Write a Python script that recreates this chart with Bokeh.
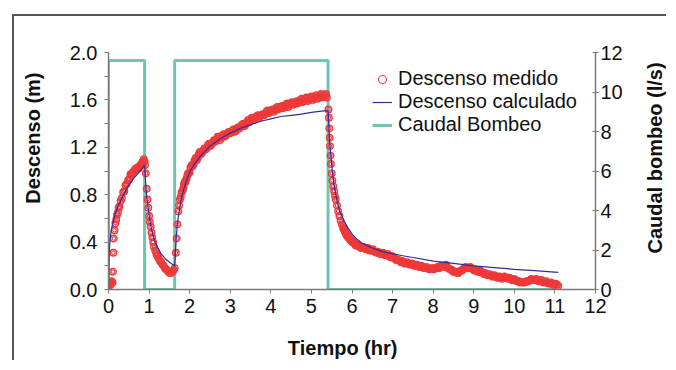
import math
from bokeh.plotting import figure
from bokeh.models import (Range1d, LinearAxis, FixedTicker, Legend, LegendItem, Label,
                          PrintfTickFormatter)
from bokeh.embed import file_html
from bokeh.resources import INLINE

# ---------------- data ----------------
# Measured drawdown (m) vs time (hr), by test period
measured_pump1 = [(0.00,0.02),(0.02,0.05),(0.04,0.06),(0.06,0.04),(0.08,0.07),(0.10,0.06),(0.11,0.15),
    (0.12,0.31),(0.13,0.43),(0.15,0.50),(0.17,0.56),(0.19,0.59),(0.21,0.63),(0.23,0.65),(0.25,0.69),
    (0.27,0.70),(0.30,0.75),(0.33,0.77),(0.36,0.82),(0.39,0.83),(0.42,0.88),(0.45,0.89),(0.48,0.92),
    (0.51,0.93),(0.54,0.97),(0.57,0.97),(0.60,0.99),(0.63,1.00),(0.66,1.02),(0.69,1.01),(0.72,1.03),
    (0.75,1.02),(0.78,1.05),(0.81,1.06),(0.84,1.08),(0.87,1.10),(0.89,1.08)]
measured_rec1 = [(0.90,1.05),(0.92,0.98),(0.94,0.85),(0.96,0.76),(0.98,0.69),(1.00,0.62),(1.02,0.57),
    (1.04,0.53),(1.06,0.48),(1.08,0.44),(1.10,0.40),(1.12,0.36),(1.15,0.33),(1.18,0.30),(1.21,0.28),
    (1.24,0.26),(1.27,0.24),(1.30,0.23),(1.33,0.21),(1.36,0.20),(1.39,0.18),(1.42,0.17),(1.45,0.16),
    (1.48,0.15),(1.51,0.14),(1.54,0.14),(1.57,0.15),(1.60,0.16),(1.63,0.18)]
measured_pump2 = [(1.66,0.31),(1.68,0.43),(1.70,0.55),(1.72,0.66),(1.74,0.71),(1.76,0.76),(1.78,0.78),
    (1.80,0.82),(1.83,0.84),(1.86,0.89),(1.90,0.91),(1.94,0.96),(1.98,0.98),(2.02,1.03),(2.07,1.04),
    (2.12,1.09),(2.17,1.09),(2.22,1.14),(2.27,1.14),(2.33,1.17),(2.39,1.18),(2.45,1.22),(2.51,1.21),
    (2.57,1.24),(2.63,1.25),(2.69,1.29),(2.75,1.26),(2.81,1.30),(2.87,1.29),(2.93,1.32),(2.99,1.32),
    (3.05,1.34),(3.11,1.33),(3.17,1.36),(3.23,1.36),(3.29,1.39),(3.35,1.38),(3.41,1.41),(3.47,1.41),
    (3.53,1.45),(3.59,1.43),(3.65,1.46),(3.71,1.45),(3.77,1.47),(3.83,1.47),(3.89,1.50),(3.95,1.49),
    (4.01,1.51),(4.07,1.50),(4.13,1.53),(4.19,1.52),(4.25,1.54),(4.31,1.53),(4.37,1.56),(4.43,1.54),
    (4.49,1.57),(4.55,1.56),(4.61,1.58),(4.67,1.57),(4.73,1.60),(4.79,1.58),(4.85,1.61),(4.91,1.59),
    (4.97,1.62),(5.03,1.60),(5.09,1.63),(5.15,1.61),(5.21,1.64),(5.27,1.62),(5.33,1.64),(5.38,1.62),
    (1.85,0.86),(1.88,0.91),(1.92,0.93),(1.96,0.98),(2.00,0.99),(2.05,1.05),(2.10,1.06),(2.15,1.11),
    (2.20,1.11),(2.25,1.16),(2.30,1.15),(2.36,1.19),(2.42,1.19),(2.48,1.23),(2.54,1.22),(2.60,1.26),
    (2.66,1.26),(2.72,1.29),(2.78,1.28),(2.84,1.31),(2.90,1.30),(2.96,1.33),(3.02,1.32),(3.08,1.35),
    (3.14,1.34),(3.20,1.37),(3.26,1.37),(3.32,1.40),(3.38,1.39),(3.44,1.43),(3.50,1.42),(3.56,1.45),
    (3.62,1.44),(3.68,1.47),(3.74,1.46),(3.80,1.48),(3.86,1.48),(3.92,1.51),(3.98,1.50),(4.04,1.52),
    (4.10,1.51),(4.16,1.54),(4.22,1.53),(4.28,1.55),(4.34,1.54),(4.40,1.57),(4.46,1.55),(4.52,1.58),
    (4.58,1.57),(4.64,1.59),(4.70,1.58),(4.76,1.61),(4.82,1.59),(4.88,1.62),(4.94,1.60),(5.00,1.63),
    (5.06,1.61),(5.12,1.64),(5.18,1.62),(5.24,1.65),(5.30,1.63),(5.36,1.65)]
measured_rec2 = [(5.42,1.52),(5.43,1.45),(5.44,1.36),(5.45,1.28),(5.46,1.21),(5.47,1.13),(5.48,1.06),
    (5.50,0.98),(5.52,0.92),(5.54,0.87),(5.56,0.83),(5.58,0.79),(5.60,0.76),(5.63,0.71),(5.66,0.66),
    (5.69,0.62),(5.72,0.58),(5.75,0.55),(5.78,0.52),(5.82,0.49),(5.86,0.46),(5.90,0.44),(5.95,0.42),
    (6.00,0.40),(6.05,0.39),(6.10,0.37),(6.16,0.37),(6.22,0.35),(6.28,0.36),(6.34,0.34),(6.40,0.35),
    (6.46,0.33),(6.52,0.34),(6.58,0.32),(6.64,0.32),(6.70,0.30),(6.76,0.31),(6.82,0.29),(6.88,0.30),
    (6.94,0.28),(7.00,0.28),(7.06,0.26),(7.12,0.25),(7.18,0.24),(7.24,0.24),(7.30,0.22),(7.36,0.23),
    (7.42,0.21),(7.48,0.22),(7.54,0.20),(7.60,0.21),(7.66,0.19),(7.72,0.20),(7.78,0.18),(7.84,0.19),
    (7.90,0.17),(7.96,0.18),(8.02,0.17),(8.08,0.18),(8.14,0.18),(8.20,0.20),(8.26,0.19),(8.32,0.21),
    (8.38,0.18),(8.44,0.17),(8.50,0.15),(8.56,0.15),(8.62,0.14),(8.68,0.16),(8.74,0.17),(8.80,0.19),
    (8.86,0.18),(8.92,0.19),(8.98,0.17),(9.04,0.17),(9.10,0.15),(9.16,0.16),(9.22,0.14),(9.28,0.14),
    (9.34,0.12),(9.40,0.13),(9.46,0.11),(9.52,0.12),(9.58,0.10),(9.64,0.11),(9.70,0.09),(9.76,0.11),
    (9.82,0.10),(9.88,0.10),(9.94,0.08),(10.00,0.09),(10.06,0.07),(10.12,0.07),(10.18,0.06),(10.24,0.06),
    (10.30,0.07),(10.36,0.07),(10.42,0.09),(10.48,0.08),(10.54,0.09),(10.60,0.07),(10.66,0.08),
    (10.72,0.06),(10.78,0.07),(10.84,0.05),(10.90,0.06),(10.96,0.04),(11.02,0.05),(11.08,0.03),
    (5.80,0.51),(5.84,0.48),(5.88,0.46),(5.93,0.44),(5.98,0.42),(6.03,0.40),(6.08,0.38),(6.13,0.38),
    (6.19,0.36),(6.25,0.36),(6.31,0.35),(6.37,0.35),(6.43,0.33),(6.49,0.33),(6.55,0.32),(6.61,0.31),
    (6.67,0.31),(6.73,0.30),(6.79,0.30),(6.85,0.29),(6.91,0.28),(6.97,0.27),(7.03,0.27),(7.09,0.25),
    (7.15,0.25),(7.21,0.23),(7.27,0.23),(7.33,0.22),(7.39,0.22),(7.45,0.21),(7.51,0.21),(7.57,0.20),
    (7.63,0.20),(7.69,0.19),(7.75,0.19),(7.81,0.18),(7.87,0.18),(7.93,0.17),(7.99,0.18),
    (8.05,0.18),(8.11,0.19),(8.17,0.19),(8.23,0.20),(8.29,0.20),(8.35,0.19),(8.41,0.17),(8.47,0.16),
    (8.53,0.15),(8.59,0.14),(8.65,0.15),(8.71,0.16),(8.77,0.18),(8.83,0.18),(8.89,0.18),(8.95,0.18),
    (9.01,0.16),(9.07,0.16),(9.13,0.15),(9.19,0.15),(9.25,0.13),(9.31,0.13),(9.37,0.12),(9.43,0.12),
    (9.49,0.11),(9.55,0.11),(9.61,0.10),(9.67,0.10),(9.73,0.10),(9.79,0.10),(9.85,0.09),(9.91,0.09),
    (9.97,0.08),(10.03,0.08),(10.09,0.07),(10.15,0.06),(10.21,0.06),(10.27,0.06),(10.33,0.07),
    (10.39,0.08),(10.45,0.08),(10.51,0.08),(10.57,0.08),(10.63,0.07),(10.69,0.07),(10.75,0.06),
    (10.81,0.06),(10.87,0.05),(10.93,0.05),(10.99,0.04),(11.05,0.04)]

# Calculated drawdown (m)
calc_t = [0.00,0.01,0.02,0.04,0.06,0.08,0.10,0.15,0.20,0.30,0.40,0.50,0.60,0.70,0.80,0.89,
          0.91,0.93,0.95,0.98,1.02,1.06,1.10,1.15,1.20,1.30,1.40,1.50,1.63,
          1.65,1.67,1.70,1.75,1.80,1.90,2.00,2.10,2.25,2.50,2.75,3.00,3.25,3.50,3.75,4.00,4.25,
          4.50,4.75,5.00,5.25,5.41,
          5.43,5.45,5.48,5.52,5.56,5.60,5.65,5.70,5.80,5.90,6.00,6.10,6.25,6.50,6.75,7.00,7.25,
          7.50,8.00,8.50,9.00,9.50,10.00,10.50,11.08]
calc_s = [0.00,0.22,0.32,0.42,0.48,0.52,0.55,0.62,0.67,0.75,0.82,0.88,0.93,0.97,1.01,1.05,
          0.93,0.83,0.76,0.68,0.58,0.51,0.45,0.40,0.36,0.30,0.26,0.23,0.20,
          0.32,0.45,0.56,0.68,0.78,0.90,0.99,1.05,1.12,1.21,1.27,1.32,1.36,1.39,1.42,1.44,1.46,
          1.47,1.48,1.495,1.505,1.51,
          1.38,1.25,1.12,0.98,0.88,0.80,0.72,0.66,0.58,0.52,0.47,0.43,0.39,0.35,0.32,0.30,0.285,
          0.27,0.24,0.22,0.20,0.185,0.17,0.16,0.145]

# Pumping rate (l/s)
pump_t = [0.00, 0.00, 0.89, 0.89, 1.63, 1.63, 5.41, 5.41, 11.05]
pump_q = [0.0, 11.6, 11.6, 0.0, 0.0, 11.6, 11.6, 0.0, 0.0]

x_ticks = list(range(0, 13))
left_ticks = [0.0, 0.4, 0.8, 1.2, 1.6, 2.0]
left_minor = [0.2, 0.6, 1.0, 1.4, 1.8]
right_ticks = [0, 2, 4, 6, 8, 10, 12]

# ---------------- figure ----------------
FONT = "Liberation Sans"
GREEN = "#6cc7b2"
BLUE = "#2e2e9c"
RED = "#ef3838"
AXIS = "#7a7a7a"
TXT = "#111111"

# the figure box is offset 12/14 px and carries a 2px top/left border (outer chart frame)
p = figure(width=654, height=346, output_backend="svg", toolbar_location=None,
           x_range=Range1d(0, 12), y_range=Range1d(0, 2),
           min_border_left=94, min_border_right=73, min_border_top=36, min_border_bottom=73)
p.styles = {
    "margin-left": "12px",
    "margin-top": "14px",
    "border-left": "2px solid #555555",
    "border-top": "2px solid #555555",
}
p.extra_y_ranges = {"q": Range1d(0, 12)}
p.outline_line_color = None
p.grid.visible = False
p.background_fill_color = "white"
p.border_fill_color = "white"

xa = p.xaxis[0]
xa.ticker = FixedTicker(ticks=x_ticks)
ya = p.yaxis[0]
ya.ticker = FixedTicker(ticks=left_ticks, minor_ticks=left_minor)
ya.formatter = PrintfTickFormatter(format="%.1f")
ra = LinearAxis(y_range_name="q", ticker=FixedTicker(ticks=right_ticks))
p.add_layout(ra, "right")

for ax in (xa, ya, ra):
    ax.axis_line_color = AXIS
    ax.axis_line_width = 1.5
    ax.major_tick_line_color = AXIS
    ax.minor_tick_line_color = AXIS
    ax.major_label_text_font = FONT
    ax.major_label_text_font_size = "20px"
    ax.major_label_text_color = TXT
    ax.major_tick_in = 0
    ax.major_tick_out = 4
    ax.minor_tick_in = 0
    ax.minor_tick_out = 0
xa.major_label_standoff = 5
ya.minor_tick_out = 4
ya.major_label_standoff = 7
ra.major_tick_in = 3
ra.major_tick_out = 3
ra.major_label_standoff = 2

# axis titles, placed in the side panels so that they are not clipped to the plot area
def title(text, side, x, y, angle=0.0, **kw):
    lab = Label(x=x, y=y, text=text, angle=angle, text_align="center", text_baseline="middle",
                text_font=FONT, text_font_size="20px", text_font_style="bold",
                text_color=TXT, **kw)
    p.add_layout(lab, side)
    return lab

title("Descenso (m)", "left", -1.85, 1.278, angle=math.pi / 2)
title("Tiempo (hr)", "below", 5.77, -0.49)
title("Caudal bombeo (l/s)", "right", 13.46, 1.11, angle=math.pi / 2)

# series
r_q = p.line(pump_t, pump_q, y_range_name="q", line_color=GREEN, line_width=3)
m_all = measured_pump1 + measured_rec1 + measured_pump2 + measured_rec2
m_t = [a for a, b in m_all]
m_s = [b for a, b in m_all]
r_m_small = p.scatter(m_t, m_s, marker="circle", size=3.5, fill_color=None, line_color="#e8405a",
                      line_width=1.1)
r_m = p.scatter(m_t, m_s, marker="circle", size=6.5, fill_color=None, line_color=RED, line_width=1.4)
r_c = p.line(calc_t, calc_s, line_color=BLUE, line_width=1.2)

legend = Legend(items=[LegendItem(label="Descenso medido", renderers=[r_m_small]),
                       LegendItem(label="Descenso calculado", renderers=[r_c]),
                       LegendItem(label="Caudal Bombeo", renderers=[r_q])],
                location=(264, 153))
legend.label_text_font = FONT
legend.label_text_font_size = "20px"
legend.label_text_color = TXT
legend.glyph_width = 20
legend.glyph_height = 20
legend.label_height = 20
legend.label_standoff = 6
legend.spacing = 0
legend.padding = 0
legend.margin = 0
legend.border_line_color = None
legend.background_fill_alpha = 0
p.add_layout(legend)

open("out.html", "w").write(file_html(p, INLINE))
